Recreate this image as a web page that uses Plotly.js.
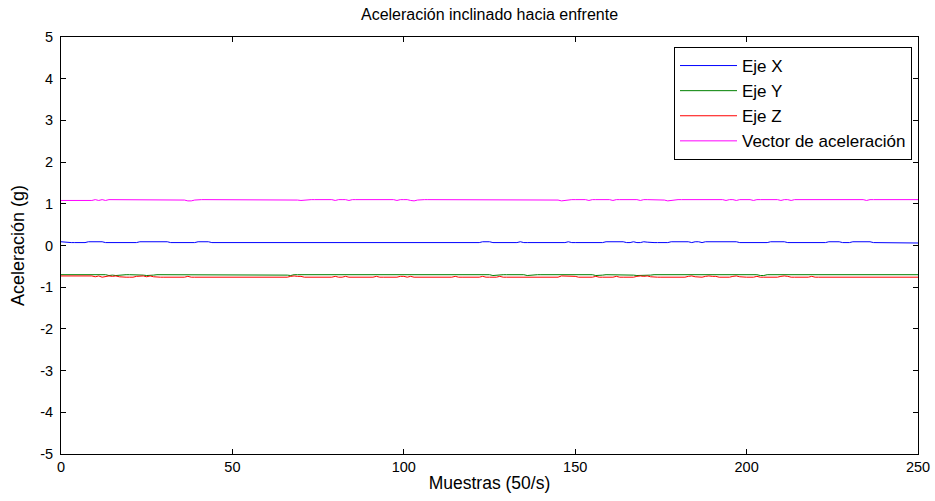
<!DOCTYPE html>
<html>
<head>
<meta charset="utf-8">
<script src="https://cdn.plot.ly/plotly-3.0.1.min.js"></script>
<style>html,body{margin:0;padding:0;background:#fff;}#chart{width:935px;height:501px;}</style>
</head>
<body>
<div id="chart"></div>
<script>
// Muestras 0..250
const ejeX = [
 0.09,0.08,0.07,0.07,0.07,0.07,0.07,0.07,0.09,0.09,
 0.09,0.09,0.09,0.07,0.07,0.07,0.07,0.07,0.07,0.07,
 0.07,0.07,0.07,0.09,0.09,0.09,0.09,0.09,0.09,0.09,
 0.09,0.09,0.07,0.07,0.07,0.08,0.07,0.07,0.07,0.07,
 0.09,0.09,0.09,0.09,0.07,0.07,0.07,0.07,0.07,0.07,
 0.07,0.07,0.07,0.07,0.07,0.07,0.07,0.07,0.07,0.07,
 0.07,0.07,0.07,0.07,0.07,0.07,0.07,0.07,0.07,0.07,
 0.07,0.07,0.07,0.07,0.07,0.07,0.07,0.07,0.07,0.07,
 0.07,0.07,0.07,0.07,0.07,0.07,0.07,0.07,0.07,0.07,
 0.07,0.07,0.07,0.07,0.07,0.07,0.07,0.07,0.07,0.07,
 0.07,0.07,0.07,0.07,0.07,0.07,0.07,0.07,0.07,0.07,
 0.07,0.07,0.07,0.07,0.07,0.07,0.07,0.07,0.07,0.07,
 0.07,0.08,0.07,0.09,0.09,0.09,0.07,0.07,0.07,0.07,
 0.07,0.07,0.07,0.07,0.09,0.07,0.07,0.07,0.07,0.07,
 0.07,0.07,0.07,0.07,0.07,0.07,0.07,0.07,0.09,0.07,
 0.07,0.07,0.07,0.07,0.07,0.07,0.07,0.07,0.07,0.09,
 0.09,0.09,0.09,0.09,0.09,0.07,0.07,0.09,0.07,0.07,
 0.09,0.08,0.07,0.07,0.07,0.07,0.07,0.07,0.09,0.09,
 0.09,0.09,0.09,0.09,0.07,0.09,0.09,0.07,0.09,0.09,
 0.09,0.09,0.09,0.09,0.09,0.09,0.09,0.09,0.07,0.07,
 0.07,0.07,0.07,0.07,0.07,0.07,0.07,0.09,0.09,0.09,
 0.09,0.09,0.07,0.07,0.07,0.07,0.08,0.07,0.07,0.08,
 0.07,0.07,0.07,0.07,0.09,0.09,0.09,0.09,0.07,0.07,
 0.07,0.09,0.09,0.09,0.09,0.09,0.09,0.07,0.07,0.07,
 0.07,0.07,0.07,0.07,0.07,0.07,0.07,0.07,0.06,0.06,
 0.06
];
const ejeY = [
 -0.70,-0.70,-0.70,-0.70,-0.70,-0.70,-0.70,-0.70,-0.70,-0.70,
 -0.70,-0.70,-0.70,-0.70,-0.72,-0.71,-0.72,-0.71,-0.70,-0.70,
 -0.70,-0.70,-0.70,-0.70,-0.71,-0.72,-0.72,-0.71,-0.70,-0.70,
 -0.70,-0.70,-0.70,-0.70,-0.70,-0.70,-0.70,-0.70,-0.70,-0.70,
 -0.70,-0.70,-0.70,-0.70,-0.70,-0.70,-0.70,-0.70,-0.70,-0.70,
 -0.70,-0.70,-0.70,-0.70,-0.70,-0.70,-0.70,-0.70,-0.70,-0.70,
 -0.70,-0.70,-0.70,-0.70,-0.70,-0.70,-0.71,-0.72,-0.70,-0.70,
 -0.70,-0.70,-0.70,-0.70,-0.70,-0.70,-0.70,-0.70,-0.70,-0.70,
 -0.70,-0.70,-0.70,-0.70,-0.70,-0.70,-0.70,-0.70,-0.70,-0.70,
 -0.70,-0.70,-0.70,-0.70,-0.70,-0.70,-0.70,-0.70,-0.70,-0.70,
 -0.70,-0.70,-0.70,-0.70,-0.70,-0.70,-0.70,-0.70,-0.70,-0.70,
 -0.70,-0.70,-0.70,-0.70,-0.70,-0.70,-0.70,-0.70,-0.70,-0.70,
 -0.70,-0.70,-0.70,-0.70,-0.70,-0.70,-0.72,-0.71,-0.70,-0.70,
 -0.70,-0.70,-0.70,-0.70,-0.70,-0.70,-0.72,-0.71,-0.70,-0.70,
 -0.70,-0.70,-0.70,-0.70,-0.70,-0.70,-0.70,-0.70,-0.70,-0.70,
 -0.70,-0.70,-0.70,-0.70,-0.70,-0.70,-0.72,-0.72,-0.71,-0.70,
 -0.70,-0.70,-0.70,-0.70,-0.70,-0.70,-0.70,-0.71,-0.72,-0.72,
 -0.72,-0.72,-0.71,-0.70,-0.70,-0.70,-0.70,-0.70,-0.70,-0.70,
 -0.70,-0.70,-0.70,-0.70,-0.70,-0.70,-0.70,-0.70,-0.70,-0.70,
 -0.70,-0.70,-0.70,-0.70,-0.70,-0.70,-0.70,-0.70,-0.70,-0.70,
 -0.70,-0.70,-0.70,-0.70,-0.72,-0.72,-0.70,-0.70,-0.70,-0.70,
 -0.70,-0.70,-0.70,-0.70,-0.70,-0.70,-0.70,-0.70,-0.70,-0.70,
 -0.70,-0.70,-0.70,-0.70,-0.70,-0.70,-0.70,-0.70,-0.70,-0.70,
 -0.70,-0.70,-0.70,-0.70,-0.70,-0.70,-0.70,-0.70,-0.70,-0.70,
 -0.70,-0.70,-0.70,-0.70,-0.70,-0.70,-0.70,-0.70,-0.70,-0.70,
 -0.70
];
const ejeZ = [
 -0.73,-0.73,-0.74,-0.73,-0.73,-0.73,-0.73,-0.74,-0.73,-0.73,
 -0.75,-0.73,-0.76,-0.74,-0.73,-0.74,-0.73,-0.75,-0.76,-0.76,
 -0.76,-0.76,-0.74,-0.73,-0.73,-0.75,-0.73,-0.75,-0.76,-0.76,
 -0.76,-0.76,-0.76,-0.76,-0.76,-0.76,-0.76,-0.74,-0.76,-0.76,
 -0.76,-0.76,-0.76,-0.76,-0.76,-0.76,-0.76,-0.76,-0.76,-0.76,
 -0.76,-0.76,-0.76,-0.76,-0.76,-0.76,-0.76,-0.76,-0.76,-0.76,
 -0.76,-0.76,-0.76,-0.76,-0.76,-0.76,-0.76,-0.74,-0.73,-0.74,
 -0.74,-0.76,-0.76,-0.76,-0.76,-0.76,-0.76,-0.76,-0.76,-0.76,
 -0.74,-0.76,-0.76,-0.74,-0.76,-0.76,-0.76,-0.76,-0.76,-0.76,
 -0.76,-0.76,-0.74,-0.76,-0.76,-0.76,-0.76,-0.76,-0.76,-0.74,
 -0.74,-0.76,-0.74,-0.76,-0.76,-0.76,-0.76,-0.76,-0.76,-0.76,
 -0.76,-0.76,-0.76,-0.76,-0.76,-0.74,-0.76,-0.76,-0.76,-0.76,
 -0.76,-0.76,-0.76,-0.74,-0.76,-0.76,-0.76,-0.76,-0.74,-0.76,
 -0.76,-0.76,-0.76,-0.76,-0.76,-0.76,-0.76,-0.76,-0.76,-0.76,
 -0.76,-0.76,-0.76,-0.76,-0.76,-0.76,-0.73,-0.73,-0.73,-0.74,
 -0.74,-0.76,-0.76,-0.76,-0.76,-0.76,-0.74,-0.76,-0.76,-0.76,
 -0.76,-0.76,-0.74,-0.76,-0.76,-0.76,-0.76,-0.76,-0.74,-0.73,
 -0.74,-0.73,-0.75,-0.76,-0.76,-0.76,-0.76,-0.76,-0.76,-0.76,
 -0.76,-0.76,-0.76,-0.74,-0.73,-0.75,-0.76,-0.76,-0.74,-0.73,
 -0.74,-0.74,-0.76,-0.76,-0.76,-0.76,-0.74,-0.73,-0.75,-0.76,
 -0.76,-0.76,-0.76,-0.74,-0.76,-0.76,-0.76,-0.76,-0.76,-0.76,
 -0.74,-0.73,-0.74,-0.76,-0.76,-0.76,-0.76,-0.76,-0.76,-0.74,
 -0.76,-0.76,-0.76,-0.76,-0.76,-0.76,-0.76,-0.76,-0.76,-0.76,
 -0.76,-0.76,-0.76,-0.76,-0.76,-0.76,-0.76,-0.76,-0.76,-0.76,
 -0.76,-0.76,-0.76,-0.76,-0.76,-0.76,-0.76,-0.76,-0.76,-0.76,
 -0.76
];
const vectorAcel = [
 1.08,1.08,1.07,1.08,1.07,1.07,1.07,1.07,1.08,1.08,
 1.10,1.08,1.10,1.08,1.10,1.10,1.10,1.10,1.10,1.10,
 1.10,1.10,1.10,1.10,1.10,1.10,1.10,1.10,1.10,1.10,
 1.10,1.10,1.10,1.10,1.10,1.10,1.09,1.07,1.07,1.09,
 1.10,1.10,1.10,1.10,1.10,1.10,1.10,1.10,1.10,1.10,
 1.10,1.10,1.10,1.10,1.10,1.10,1.10,1.10,1.10,1.10,
 1.10,1.10,1.10,1.10,1.10,1.10,1.10,1.10,1.10,1.09,
 1.08,1.09,1.10,1.10,1.10,1.10,1.10,1.10,1.10,1.10,
 1.08,1.10,1.10,1.10,1.08,1.10,1.10,1.10,1.10,1.10,
 1.10,1.10,1.10,1.10,1.10,1.10,1.10,1.10,1.08,1.10,
 1.10,1.10,1.08,1.07,1.09,1.10,1.10,1.10,1.10,1.10,
 1.10,1.10,1.10,1.10,1.10,1.10,1.10,1.10,1.10,1.10,
 1.10,1.10,1.10,1.10,1.10,1.10,1.10,1.10,1.10,1.10,
 1.10,1.10,1.10,1.10,1.10,1.10,1.10,1.10,1.10,1.10,
 1.10,1.10,1.10,1.10,1.10,1.09,1.07,1.08,1.10,1.10,
 1.10,1.10,1.10,1.10,1.08,1.10,1.10,1.10,1.10,1.10,
 1.10,1.08,1.10,1.10,1.10,1.10,1.10,1.10,1.10,1.08,
 1.10,1.10,1.10,1.10,1.10,1.10,1.09,1.07,1.08,1.10,
 1.10,1.10,1.10,1.10,1.10,1.10,1.10,1.10,1.10,1.10,
 1.10,1.10,1.10,1.10,1.08,1.10,1.10,1.08,1.10,1.10,
 1.10,1.10,1.08,1.10,1.10,1.10,1.10,1.10,1.10,1.10,
 1.08,1.10,1.10,1.08,1.10,1.10,1.10,1.10,1.10,1.10,
 1.10,1.10,1.10,1.10,1.10,1.10,1.10,1.10,1.10,1.10,
 1.10,1.10,1.10,1.10,1.10,1.08,1.10,1.10,1.10,1.10,
 1.10,1.10,1.10,1.10,1.10,1.10,1.10,1.10,1.10,1.10,
 1.10
];
const muestras = ejeX.map((_, i) => i);
const seriesNames = ['Eje X', 'Eje Y', 'Eje Z', 'Vector de aceleración'];
const seriesColors = ['#0000FF', '#008000', '#FF0000', '#FF00FF'];
const seriesData = [ejeX, ejeY, ejeZ, vectorAcel];
const xTicks = [0, 50, 100, 150, 200, 250];
const yTicks = [-5, -4, -3, -2, -1, 0, 1, 2, 3, 4, 5];

const FONT = 'Liberation Sans, Arial, sans-serif';
const traces = seriesData.map((d, k) => ({
  x: muestras, y: d, type: 'scatter', mode: 'lines',
  name: seriesNames[k],
  line: {color: seriesColors[k], width: 1}
}));

const axisCommon = {
  showline: true, linecolor: '#000', linewidth: 1, mirror: 'ticks',
  ticks: 'inside', ticklen: 5, tickcolor: '#000', tickwidth: 1,
  showgrid: false, zeroline: false,
  tickfont: {family: FONT, size: 14.5, color: '#000'}
};

const layout = {
  width: 935, height: 501,
  margin: {l: 61, r: 17, t: 37, b: 47, pad: 0},
  paper_bgcolor: '#fff', plot_bgcolor: '#fff',
  font: {family: FONT, size: 14, color: '#000'},
  title: {text: 'Aceleración inclinado hacia enfrente', x: 0.5, xref: 'paper',
          y: 1 - 14/501, yref: 'container', yanchor: 'middle',
          font: {family: FONT, size: 16, color: '#000'}},
  xaxis: Object.assign({}, axisCommon, {
    range: [0, 250], tickvals: xTicks, ticktext: xTicks.map(String),
    title: {text: 'Muestras (50/s)', standoff: 2, font: {family: FONT, size: 17.5, color: '#000'}}
  }),
  yaxis: Object.assign({}, axisCommon, {
    range: [-5, 5], tickvals: yTicks, ticktext: yTicks.map(String),
    ticklabelstandoff: 4,
    title: {text: 'Aceleración (g)', standoff: 10, font: {family: FONT, size: 18, color: '#000'}}
  }),
  showlegend: true,
  legend: {
    x: 0.993, xanchor: 'right', y: 0.976, yanchor: 'top',
    bgcolor: '#fff', bordercolor: '#000', borderwidth: 1,
    font: {family: FONT, size: 17, color: '#000'},
    itemwidth: 57
  }
};

Plotly.newPlot('chart', traces, layout, {displayModeBar: false, staticPlot: true});
</script>
</body>
</html>
